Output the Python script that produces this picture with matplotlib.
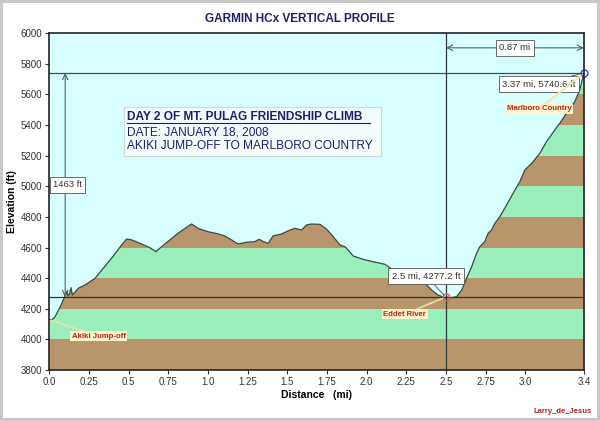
import matplotlib
matplotlib.use("Agg")
import matplotlib.pyplot as plt
from matplotlib.patches import Polygon, Rectangle
import numpy as np

plt.rcParams['font.family'] = ['Liberation Sans', 'DejaVu Sans']

# profile (miles, feet)
dist = [0.0, 0.015, 0.036, 0.067, 0.095, 0.11, 0.12, 0.128, 0.137, 0.145, 0.183, 0.225,
        0.288, 0.34, 0.40, 0.456, 0.488, 0.52, 0.58, 0.635, 0.672, 0.72, 0.76, 0.81,
        0.866, 0.897, 0.94, 1.00, 1.065, 1.107, 1.149, 1.19, 1.244, 1.296, 1.323, 1.349,
        1.38, 1.41, 1.464, 1.506, 1.548, 1.59, 1.622, 1.653, 1.706, 1.748, 1.79, 1.832,
        1.863, 1.884, 1.916, 1.979, 2.04, 2.115, 2.168, 2.25, 2.32, 2.367, 2.41, 2.45,
        2.493, 2.5, 2.536, 2.567, 2.6, 2.63, 2.662, 2.693, 2.714, 2.745, 2.766, 2.788,
        2.808, 2.84, 2.882, 2.924, 2.966, 2.998, 3.04, 3.092, 3.134, 3.187, 3.218, 3.26,
        3.313, 3.344, 3.37]
elev = [4131, 4127, 4148, 4210, 4275, 4312, 4284, 4300, 4338, 4290, 4334, 4356,
        4399, 4465, 4541, 4617, 4656, 4650, 4624, 4599, 4573, 4617, 4650, 4693,
        4733, 4754, 4724, 4704, 4689, 4676, 4650, 4624, 4635, 4639, 4654, 4639,
        4628, 4676, 4689, 4710, 4726, 4715, 4748, 4754, 4752, 4720, 4671, 4617,
        4606, 4584, 4545, 4523, 4508, 4491, 4454, 4430, 4405, 4367, 4323, 4290,
        4273, 4277.2, 4273, 4279, 4323, 4399, 4475, 4562, 4606, 4639, 4693, 4715,
        4758, 4802, 4878, 4955, 5031, 5107, 5150, 5216, 5292, 5369, 5412, 5478,
        5554, 5630, 5740.6]

x_ticks = [0.0, 0.25, 0.5, 0.75, 1.0, 1.25, 1.5, 1.75, 2.0, 2.25, 2.5, 2.75, 3.0, 3.37]
x_labels = ['0.0', '0.25', '0.5', '0.75', '1.0', '1.25', '1.5', '1.75', '2.0', '2.25',
            '2.5', '2.75', '3.0', '3.4']
y_ticks = list(range(3800, 6001, 200))

low_pt = (2.5, 4277.2)
high_pt = (3.37, 5740.6)

info_lines = ['DAY 2 OF MT. PULAG FRIENDSHIP CLIMB', 'DATE: JANUARY 18, 2008',
              'AKIKI JUMP-OFF TO MARLBORO COUNTRY']

brown = '#B8956A'
green = '#99EEBB'
navy = '#1F1F6B'
dred = '#B22222'

fig = plt.figure(figsize=(6.0, 4.21), dpi=100)
fig.patch.set_facecolor('white')
fig.patch.set_edgecolor('#C8C8C8')
fig.patch.set_linewidth(4)
ax = fig.add_axes([0.0822, 0.121, 0.891, 0.800])
ax.set_facecolor('#D8FFFF')

# elevation bands, clipped to the area under the profile
ground = Polygon(list(zip(dist, elev)) + [(dist[-1], 3800), (dist[0], 3800)],
                 closed=True, fc='none', ec='none')
ax.add_patch(ground)
for i, lo in enumerate(range(3800, 6000, 200)):
    band = ax.axhspan(lo, lo + 200, color=brown if i % 2 == 0 else green, lw=0)
    band.set_clip_path(ground)
ax.plot(dist, elev, color='#3C4A44', lw=0.9)

ax.set_xlim(0, 3.37)
ax.set_ylim(3800, 6000)
ax.set_xticks(x_ticks)
ax.set_xticklabels(x_labels)
ax.set_yticks(y_ticks)
ax.tick_params(labelsize=7, length=3, color='#333333', labelcolor='#333333', pad=2)
for s in ax.spines.values():
    s.set_color('#222222')
    s.set_linewidth(1.2)

ax.set_xlabel('Distance   (mi)', fontsize=7.5, fontweight='bold', labelpad=2)
ax.set_ylabel('Elevation (ft)', fontsize=7.5, fontweight='bold', labelpad=3)
fig.text(0.5, 0.955, 'GARMIN HCx VERTICAL PROFILE', ha='center', va='center',
         fontsize=8.5, fontweight='bold', color=navy)

# reference lines
ax.axhline(high_pt[1], color='#3C5050', lw=0.9)
ax.axhline(low_pt[1], color='#3C3020', lw=0.9)
ax.axvline(low_pt[0], color='#2F3A3A', lw=0.9)

box = dict(boxstyle='square,pad=0.35', fc='white', ec='#555555', lw=0.6)

ax.annotate('', xy=(0.1, high_pt[1]), xytext=(0.1, low_pt[1]),
            arrowprops=dict(arrowstyle='<->', color='#506464', lw=0.8, shrinkA=0, shrinkB=0))
ax.text(0.115, 5009, '1463 ft', ha='center', va='center', fontsize=6.8, color='#333333',
        bbox=box)

ax.annotate('', xy=(low_pt[0], 5905), xytext=(high_pt[0], 5905),
            arrowprops=dict(arrowstyle='<->', color='#506464', lw=0.8, shrinkA=0, shrinkB=0))
ax.text(2.935, 5905, '0.87 mi', ha='center', va='center', fontsize=6.8, color='#333333',
        bbox=box)

ax.plot(*high_pt, marker='o', ms=5, mfc='none', mec='#4040C0', mew=1, clip_on=False)
ax.plot(*low_pt, marker='o', ms=5, mfc='none', mec='#E06060', mew=1, clip_on=False)

ax.annotate('3.37 mi, 5740.6 ft', xy=high_pt, xytext=(3.085, 5668), ha='center', va='center',
            fontsize=6.8, color='#333333', bbox=box,
            arrowprops=dict(arrowstyle='-', color='#555555', lw=0.6, shrinkA=0, shrinkB=2))
ax.annotate('2.5 mi, 4277.2 ft', xy=low_pt, xytext=(2.375, 4414), ha='center', va='center',
            fontsize=6.8, color='#333333', bbox=box,
            arrowprops=dict(arrowstyle='-', color='#555555', lw=0.6, shrinkA=0, shrinkB=2))

tag = dict(boxstyle='square,pad=0.2', fc='#FFF5C8', ec='none')
ax.annotate('Akiki Jump-off', xy=(0.01, 4125), xytext=(0.31, 4022), ha='center', va='center',
            fontsize=5.6, fontweight='bold', color=dred, bbox=tag,
            arrowprops=dict(arrowstyle='-', color='#E8E0A0', lw=1.2, shrinkA=0, shrinkB=0))
ax.annotate('Eddet River', xy=low_pt, xytext=(2.24, 4166), ha='center', va='center',
            fontsize=5.6, fontweight='bold', color=dred, bbox=tag,
            arrowprops=dict(arrowstyle='-', color='#E8E0A0', lw=1.2, shrinkA=0, shrinkB=3))
ax.annotate('Marlboro Country', xy=high_pt, xytext=(3.087, 5506), ha='center', va='center',
            fontsize=5.6, fontweight='bold', color=dred, bbox=tag,
            arrowprops=dict(arrowstyle='-', color='#F0E8A8', lw=1.5, shrinkA=0, shrinkB=3))

# info box
ax.add_patch(Rectangle((0.471, 5199), 1.619, 320, fc='#F4FBFB', ec='#D0D8D8', lw=0.8))
ax.text(0.49, 5452, info_lines[0], ha='left', va='center', fontsize=8.6,
        color=navy, fontweight='bold')
ax.text(0.49, 5352, info_lines[1], ha='left', va='center', fontsize=8.6, color=navy)
ax.text(0.49, 5266, info_lines[2], ha='left', va='center', fontsize=8.6, color=navy)
ax.plot([0.49, 2.02], [5416, 5416], color=navy, lw=0.8)

fig.text(0.987, 0.022, 'Larry_de_Jesus', ha='right', va='center', fontsize=5.5,
         fontweight='bold', color=dred)

fig.savefig('out.png', dpi=100, facecolor=fig.get_facecolor(), edgecolor=fig.get_edgecolor())
